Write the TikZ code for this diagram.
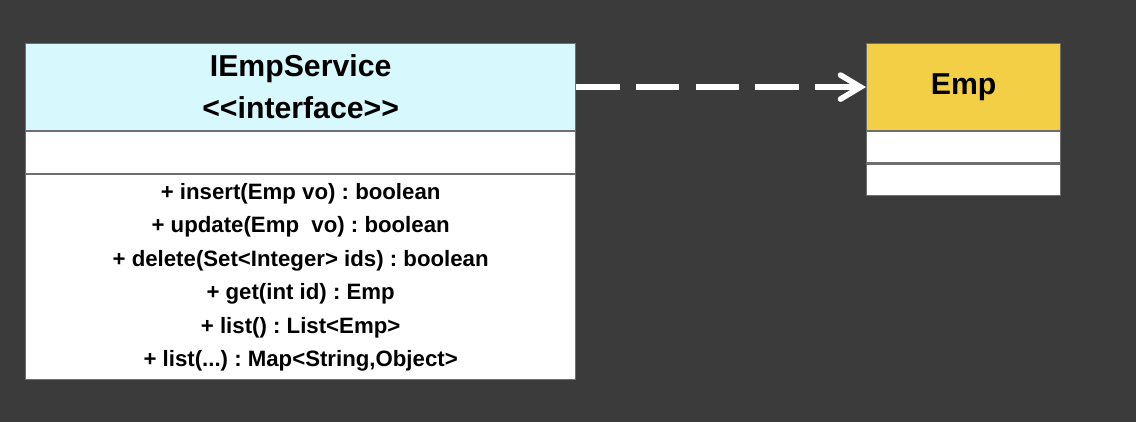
\documentclass[tikz,border=0pt]{standalone}
\usepackage{fontspec}
\setmainfont{Liberation Sans}[Ligatures=TeXOff]
\usetikzlibrary{arrows.meta,positioning}

\definecolor{board}{HTML}{3B3B3B}
\definecolor{headblue}{HTML}{D7F8FC}
\definecolor{headgold}{HTML}{F3CF45}
\definecolor{rule}{HTML}{6E6E6E}

\tikzset{part/.style={rectangle, draw=rule, line width=0.8pt, fill=white, inner sep=0pt, align=center, font=\bfseries}}
\frenchspacing

\begin{document}
\begin{tikzpicture}[x=0.025cm, y=-0.025cm]
			% Background board
			\fill[board] (0,0) rectangle (1136,422);
			
			% Interface IEmpService, three compartments
			\node[part, fill=headblue, anchor=north west, minimum width=13.75cm, minimum height=2.175cm, font=\bfseries\fontsize{21.5}{30}\selectfont] (svchead) at (25,43) {IEmpService\\<<interface>>};
			\node[part, minimum width=13.75cm, minimum height=1.05cm, below=0pt of svchead] (svcattr) {};
			\node[part, minimum width=13.75cm, minimum height=5.125cm, below=0pt of svcattr, font=\bfseries\fontsize{15.8}{23.8}\selectfont] (svcops) {+ insert(Emp vo) : boolean\\+ update(Emp~~vo) : boolean\\+ delete(Set<Integer> ids) : boolean\\+ get(int id) : Emp\\+ list() : List<Emp>\\+ list(...) : Map<String,Object>};
			
			% Class Emp, three compartments
			\node[part, fill=headgold, anchor=north west, minimum width=4.85cm, minimum height=2.175cm, font=\bfseries\fontsize{21.5}{30}\selectfont] (emphead) at (866,43) {Emp};
			\node[part, minimum width=4.85cm, minimum height=0.78cm, below=0pt of emphead] (empattr) {};
			\node[part, minimum width=4.85cm, minimum height=0.78cm, below=0pt of empattr] (empops) {};
			
			% Dependency from the interface to Emp
			\draw[white, line width=4pt, dash pattern=on 31pt off 11.4pt, -{Straight Barb[length=5mm, width=6mm, line cap=round]}] (svchead.east) -- (emphead.west);
		\end{tikzpicture}
\end{document}
